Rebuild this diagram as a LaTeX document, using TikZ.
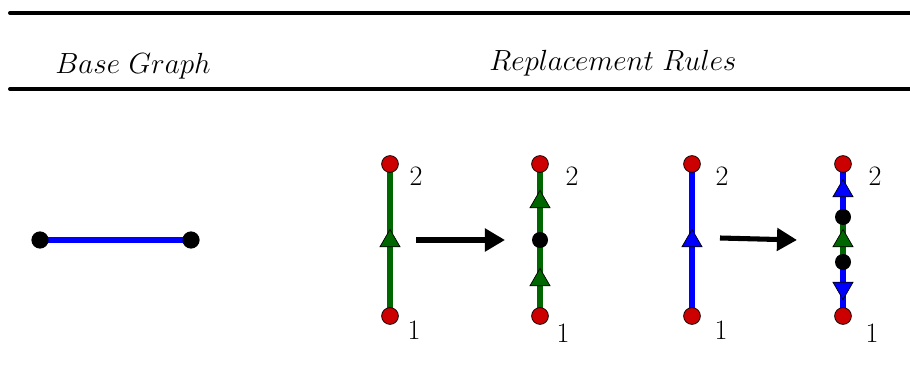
\documentclass[tikz,border=0pt]{standalone}
\usepackage{tikz}
\usetikzlibrary{shapes.geometric, arrows.meta, positioning, backgrounds}
\definecolor{rulegreen}{RGB}{0,102,0}
\definecolor{rulered}{RGB}{204,0,0}
\tikzstyle{arrow} = [line width=3.6pt,-{Triangle[length=0.5cm,width=0.55cm]}]
\tikzstyle{hline} = [line width=2.8pt, line cap=round]
\tikzstyle{vertex} = [circle, fill=black, inner sep=0pt, minimum size=0.43cm]
\tikzstyle{terminal} = [circle, draw=black, fill=rulered, inner sep=0pt, minimum size=0.42cm, line width=0.5pt]
\tikzstyle{lbl} = [font=\fontsize{20}{24}\selectfont, inner sep=0pt]
\tikzset{
	dirmark/.style = {regular polygon, regular polygon sides=3, draw=black, line width=0.5pt,
		fill=#1, inner sep=0pt, minimum size=0.58cm},
	edge/.style = {line width=3.6pt, draw=#1},
}

\begin{document}
\begin{tikzpicture}[x=0.025cm, y=-0.025cm, font=\fontsize{20}{24}\selectfont]
\useasboundingbox (0,0) rectangle (910,387);
% Header of the table
\draw [hline] (10,13) -- (912,13);
\draw [hline] (10,89) -- (912,89);
\node (hbase) [lbl] at (133,66) {$Base~Graph$};
\node (hrules) [lbl] at (613,63) {$Replacement~Rules$};

% Placement of base graph nodes
\node (b1) [vertex] at (40,240) {};
\node (b2) [vertex] at (191,240) {};

% Placement of first rule nodes
\node (p1) [terminal] at (390,316) {};
\node (p2) [terminal] at (390,164) {};
\node (pm) [dirmark=rulegreen] at (390,241) {};
\node (q1) [terminal] at (540,316) {};
\node (q2) [terminal] at (540,164) {};
\node (qa) [dirmark=rulegreen] at (540,280) {};
\node (qv) [vertex, minimum size=0.4cm] at (540,240) {};
\node (qb) [dirmark=rulegreen] at (540,202) {};
\coordinate (a1s) at (416,240);
\coordinate (a1e) at (505,240);

% Placement of second rule nodes
\node (r1) [terminal] at (692,316) {};
\node (r2) [terminal] at (692,164) {};
\node (rm) [dirmark=blue] at (692,241) {};
\node (s1) [terminal] at (843,316) {};
\node (s2) [terminal] at (843,164) {};
\node (sa) [dirmark=blue, shape border rotate=180] at (843,288) {};
\node (sv1) [vertex, minimum size=0.4cm] at (843,262) {};
\node (sm) [dirmark=rulegreen] at (843,241) {};
\node (sv2) [vertex, minimum size=0.4cm] at (843,217) {};
\node (sb) [dirmark=blue] at (843,191) {};
\coordinate (a2s) at (720,238);
\coordinate (a2e) at (797,240);

% Labels of the terminals
\node (lp1) [lbl] at (414,330) {1};
\node (lp2) [lbl] at (416,176) {2};
\node (lq1) [lbl] at (563,333) {1};
\node (lq2) [lbl] at (572,176) {2};
\node (lr1) [lbl] at (721,330) {1};
\node (lr2) [lbl] at (722,176) {2};
\node (ls1) [lbl] at (872,333) {1};
\node (ls2) [lbl] at (875,176) {2};

% Drawing of Lines (behind the nodes)
\begin{scope}[on background layer]
\draw [edge=blue] (b1.center) -- (b2.center);
\draw [edge=rulegreen] (p1.center) -- (pm.center);
\draw [edge=rulegreen] (pm.center) -- (p2.center);
\draw [edge=rulegreen] (q1.center) -- (qa.center);
\draw [edge=rulegreen] (qa.center) -- (qv.center);
\draw [edge=rulegreen] (qv.center) -- (qb.center);
\draw [edge=rulegreen] (qb.center) -- (q2.center);
\draw [edge=blue] (r1.center) -- (rm.center);
\draw [edge=blue] (rm.center) -- (r2.center);
\draw [edge=blue] (s1.center) -- (sa.center);
\draw [edge=blue] (sa.center) -- (sv1.center);
\draw [edge=rulegreen] (sv1.center) -- (sm.center);
\draw [edge=rulegreen] (sm.center) -- (sv2.center);
\draw [edge=blue] (sv2.center) -- (sb.center);
\draw [edge=blue] (sb.center) -- (s2.center);
\end{scope}
\draw [arrow] (a1s) -- (a1e);
\draw [arrow] (a2s) -- (a2e);

\end{tikzpicture}
\end{document}
